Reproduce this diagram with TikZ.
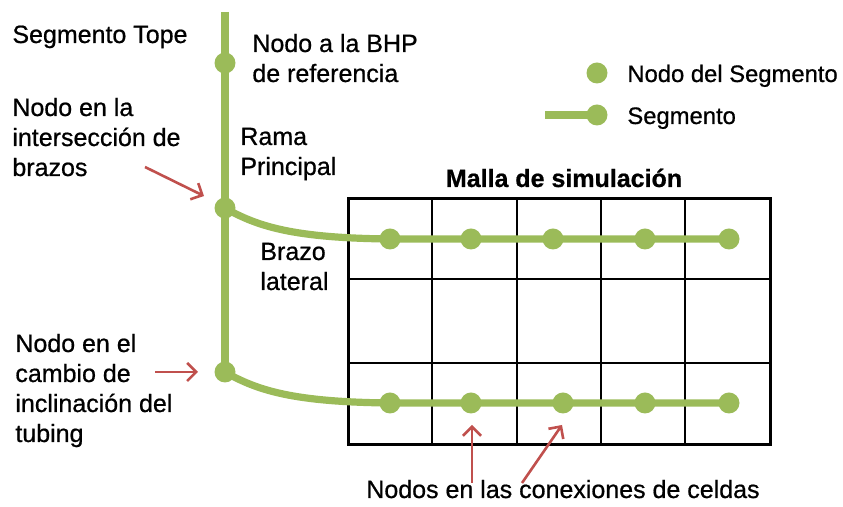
\documentclass[tikz,border=0pt]{standalone}
\usepackage{fontspec}
\setmainfont{Liberation Sans}[FakeBold=0.7]
\usetikzlibrary{arrows.meta}
\definecolor{verde}{HTML}{9BBB59}
\definecolor{rojo}{HTML}{C0504D}
\tikzset{
  nodo/.style={circle,fill=verde,inner sep=0pt,minimum size=10.5pt},
  seg/.style={verde,line width=3.6pt},
  flecha/.style={rojo,line width=1.3pt,-{Straight Barb[length=4.5pt,width=9pt]}},
  etiq/.style={anchor=base west,align=left,inner sep=0pt,font=\fontsize{12.5}{15}\selectfont},
}
\begin{document}
\begin{tikzpicture}[x=0.5pt,y=-0.5pt]
\useasboundingbox (0,0) rectangle (843,507);
\foreach \gx in {432,517,601,685} \draw[line width=0.75pt] (\gx,199) -- (\gx,445);
\foreach \gy in {279,363} \draw[line width=0.75pt] (348,\gy) -- (770,\gy);
\draw[line width=1.5pt] (348,199) rectangle (770,445);
\coordinate (tope) at (225,12);
\node[nodo] (bhp) at (225,63) {};
\node[nodo] (inter) at (225,208) {};
\node[nodo] (incl) at (225,372) {};
\foreach \i/\gx in {1/390,2/471,3/553,4/645,5/729} \node[nodo] (a\i) at (\gx,239) {};
\foreach \i/\gx in {1/390,2/471,3/563,4/645,5/729} \node[nodo] (b\i) at (\gx,403) {};
\draw[seg] (tope) -- (bhp.center) -- (inter.center) -- (incl.center);
\draw[seg] (inter.center) .. controls (258,227) and (295,238) .. (a1.center) -- (a5.center);
\draw[seg] (incl.center) .. controls (258,391) and (295,402) .. (b1.center) -- (b5.center);
\node[nodo] (leyn) at (597,73) {};
\node[nodo] (leys) at (597,115) {};
\coordinate (leyi) at (545,115);
\draw[seg] (leyi) -- (leys.center);
\node[etiq,font=\fontsize{11.9}{15}\selectfont] (lnodo) at (627,82) {Nodo del Segmento};
\node[etiq,font=\fontsize{11.9}{15}\selectfont] (lseg) at (627,124) {Segmento};
\node[etiq] (ttope) at (12,43) {Segmento Tope};
\node[etiq] (tbhp) at (252,82) {Nodo a la BHP\\de referencia};
\node[etiq] (tinter) at (12,176) {Nodo en la\\intersección de\\brazos};
\node[etiq] (trama) at (240,175) {Rama\\Principal};
\node[etiq] (tbrazo) at (260,290) {Brazo\\lateral};
\node[etiq] (tincl) at (15,442) {Nodo en el\\cambio de\\inclinación del\\tubing};
\node[etiq,anchor=base,font=\fontsize{12.5}{15}\selectfont\bfseries] (tmalla) at (564,187) {Malla de simulación};
\node[etiq,anchor=base] (tcon) at (563,498) {Nodos en las conexiones de celdas};
\coordinate (f1a) at (145,167);
\coordinate (f1b) at (204,196);
\coordinate (f2a) at (155,372);
\coordinate (f2b) at (198,372);
\coordinate (f3a) at (472,483);
\coordinate (f3b) at (472,425);
\coordinate (f4a) at (522,483);
\coordinate (f4b) at (562,425);
\draw[flecha] (f1a) -- (f1b);
\draw[flecha] (f2a) -- (f2b);
\draw[flecha] (f3a) -- (f3b);
\draw[flecha] (f4a) -- (f4b);
\end{tikzpicture}
\end{document}
